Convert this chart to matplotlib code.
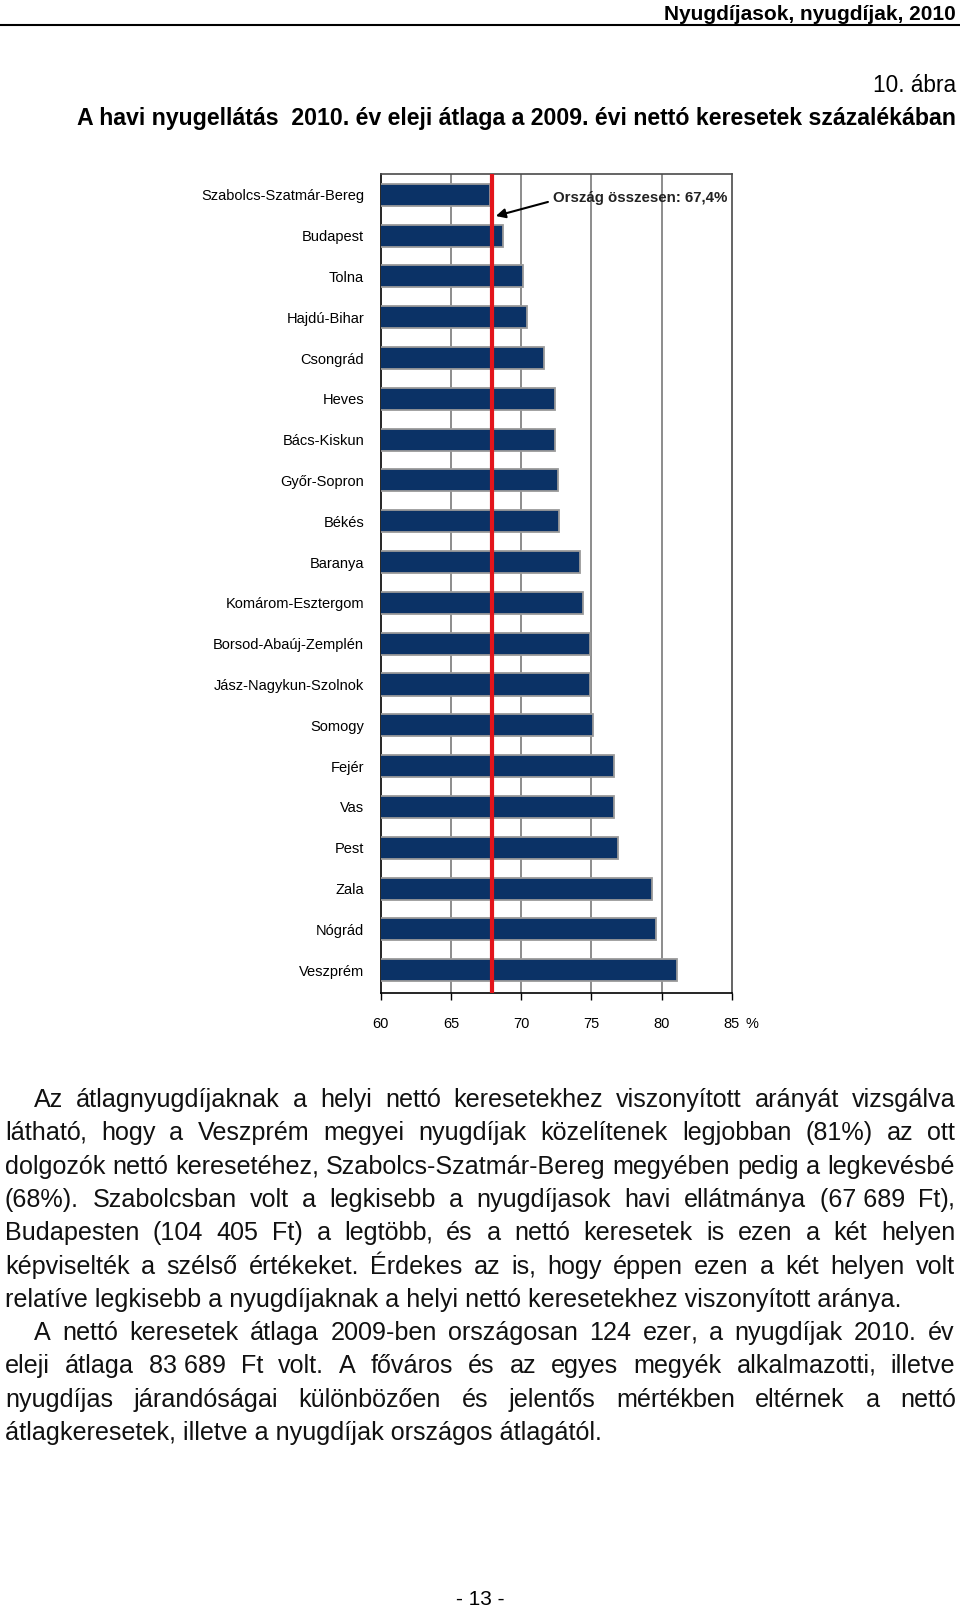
import matplotlib
matplotlib.use('Agg')

import matplotlib.pyplot as plt
from matplotlib import font_manager

# Adatok
megyek = ['Szabolcs-Szatmár-Bereg', 'Budapest', 'Tolna', 'Hajdú-Bihar', 'Csongrád',
          'Heves', 'Bács-Kiskun', 'Győr-Sopron', 'Békés', 'Baranya',
          'Komárom-Esztergom', 'Borsod-Abaúj-Zemplén', 'Jász-Nagykun-Szolnok', 'Somogy',
          'Fejér', 'Vas', 'Pest', 'Zala', 'Nógrád', 'Veszprém']
ertekek = [67.8, 68.7, 70.1, 70.4, 71.6, 72.4, 72.4, 72.6, 72.7, 74.2,
           74.4, 74.9, 74.9, 75.1, 76.6, 76.6, 76.9, 79.3, 79.6, 81.1]
orszag_vonal = 67.95
orszag_felirat = 'Ország összesen: 67,4%'
xtick_ertekek = [60, 65, 70, 75, 80, 85]

fejlec = 'Nyugdíjasok, nyugdíjak, 2010'
abra_szam = '10. ábra'
cim = 'A havi nyugellátás  2010. év eleji átlaga a 2009. évi nettó keresetek százalékában'
oldalszam = '- 13 -'

sorok = [
    'Az átlagnyugdíjaknak a helyi nettó keresetekhez viszonyított arányát vizsgálva',
    'látható, hogy a Veszprém megyei nyugdíjak közelítenek legjobban (81%) az ott',
    'dolgozók nettó keresetéhez, Szabolcs-Szatmár-Bereg megyében pedig a legkevésbé',
    '(68%). Szabolcsban volt a legkisebb a nyugdíjasok havi ellátmánya (67~689 Ft),',
    'Budapesten (104 405 Ft) a legtöbb, és a nettó keresetek is ezen a két helyen',
    'képviselték a szélső értékeket. Érdekes az is, hogy éppen ezen a két helyen volt',
    'relatíve legkisebb a nyugdíjaknak a helyi nettó keresetekhez viszonyított aránya.',
    'A nettó keresetek átlaga 2009-ben országosan 124 ezer, a nyugdíjak 2010. év',
    'eleji átlaga 83~689 Ft volt. A főváros és az egyes megyék alkalmazotti, illetve',
    'nyugdíjas járandóságai különbözően és jelentős mértékben eltérnek a nettó',
    'átlagkeresetek, illetve a nyugdíjak országos átlagától.',
]
sorkizart = [True, True, True, True, True, True, False, True, True, True, False]
behuzott = [True, False, False, False, False, False, False, True, False, False, False]

# Fonts
nevek = {f.name for f in font_manager.fontManager.ttflist}
if 'Liberation Sans Narrow' in nevek:
    chart_font = 'Liberation Sans Narrow'
    lbl_size, tick_size, ann_size = 12.5, 12.0, 13.0
else:
    chart_font = 'Liberation Sans'
    lbl_size, tick_size, ann_size = 10.5, 10.5, 10.8
text_font = 'Liberation Sans'
para_size = 18.05

W, H = 960, 1609
fig = plt.figure(figsize=(W / 100, H / 100), dpi=100)

# page layer in pixel coordinates
bg = fig.add_axes([0, 0, 1, 1])
bg.set_xlim(0, W)
bg.set_ylim(H, 0)
bg.axis('off')

bg.text(956, 20, fejlec, ha='right', va='baseline', fontsize=15, fontweight='bold',
        family=text_font)
bg.plot([0, W], [25, 25], color='black', lw=1.5)
bg.text(956, 92, abra_szam, ha='right', va='baseline', fontsize=16.3, family=text_font)
bg.text(956, 125, cim, ha='right', va='baseline', fontsize=16.7, fontweight='bold',
        family=text_font)
bg.text(480, 1605, oldalszam, ha='center', va='baseline', fontsize=15, family=text_font)


def szoveg(x, y, s):
    return bg.text(x, y, s, ha='left', va='baseline', fontsize=para_size,
                   family=text_font, color='#111111')


# justified paragraph (word by word, trailing comma drawn on its own)
renderer = fig.canvas.get_renderer()
bal, jobb = 5, 956
for i, sor in enumerate(sorok):
    y = round(1107 + i * 33.3)
    x0 = 34 if behuzott[i] else bal
    if not sorkizart[i]:
        szoveg(x0, y, sor.replace('~', ' '))
        continue
    szavak = [s.replace('~', ' ') for s in sor.split(' ')]
    darabok = []
    for s in szavak:
        if s.endswith(',') and len(s) > 1:
            darabok.append([szoveg(0, y, s[:-1]), szoveg(0, y, ',')])
        else:
            darabok.append([szoveg(0, y, s)])
    szel = [[e.get_window_extent(renderer).width for e in d] for d in darabok]
    res = (jobb - x0 - sum(sum(w) for w in szel)) / (len(szavak) - 1)
    x = x0
    for d, ws in zip(darabok, szel):
        for k, (e, w) in enumerate(zip(d, ws)):
            if k > 0:
                x -= 1
            e.set_x(x)
            x += w
        x += res

# chart
ax = fig.add_axes([380.7 / W, 1 - 993 / H, 351 / W, 819 / H])
pos = list(range(len(megyek)))
ax.barh(pos, ertekek, height=0.54, color='#0b3266', edgecolor='#9a9a9a', linewidth=1.3,
        zorder=3)
ax.set_xlim(60, 85)
ax.set_ylim(len(megyek) - 1 + 0.56, -0.51)
ax.set_xticks(xtick_ertekek)
ax.set_xticklabels([str(v) for v in xtick_ertekek], fontsize=tick_size, family=chart_font)
ax.set_yticks(pos)
ax.set_yticklabels(megyek, fontsize=lbl_size, family=chart_font)
ax.tick_params(axis='y', length=0, pad=12)
ax.tick_params(axis='x', length=5, width=1, direction='out', pad=12)
for v in xtick_ertekek[1:-1]:
    ax.axvline(v, color='#8c8c8c', lw=1.4, zorder=1)
ax.axvline(orszag_vonal, color='#e3151b', lw=3, zorder=4)
for s in ['left', 'bottom']:
    ax.spines[s].set_color('black')
    ax.spines[s].set_linewidth(1.2)
for s in ['top', 'right']:
    ax.spines[s].set_color('#4a4a4a')
    ax.spines[s].set_linewidth(1.2)
bg.text(745, 1024, '%', ha='left', va='center', fontsize=tick_size, family=chart_font)
ax.annotate(orszag_felirat, xy=(orszag_vonal + 0.25, 0.52), xytext=(72.3, 0.07),
            ha='left', va='center', fontsize=ann_size, fontweight='bold',
            family=chart_font, color='#222222',
            arrowprops=dict(arrowstyle='-|>', color='black', lw=1.5, relpos=(0, 0.3),
                            mutation_scale=14, shrinkA=2, shrinkB=0),
            zorder=5)

fig.savefig('out.png', dpi=100)
